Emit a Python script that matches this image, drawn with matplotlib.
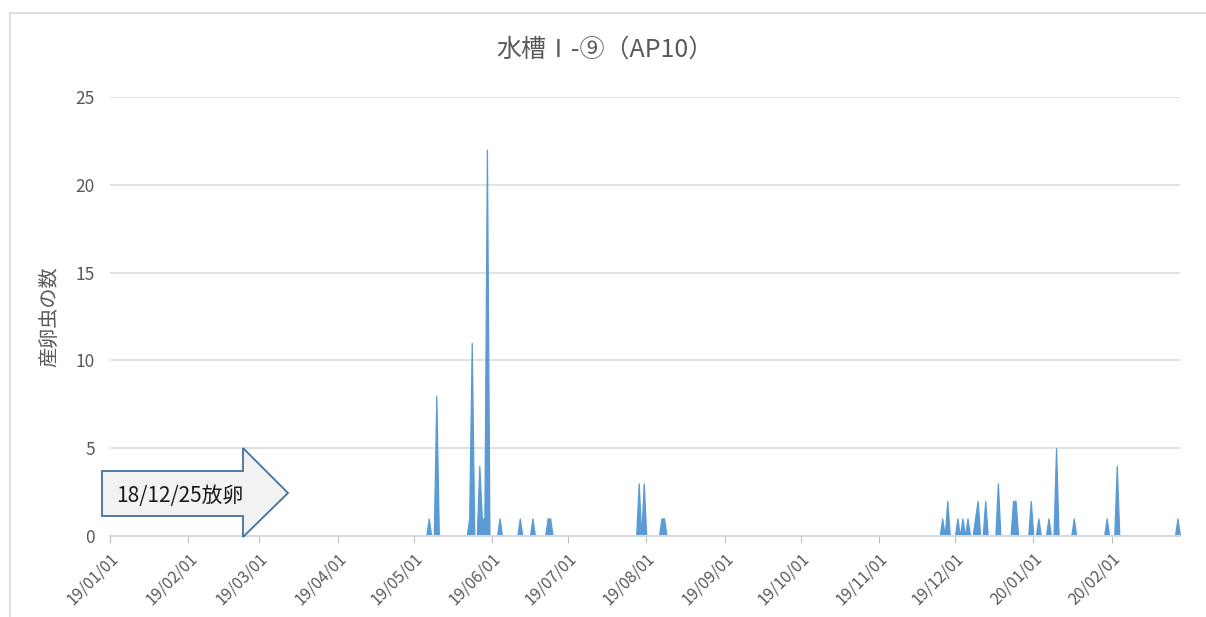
import matplotlib
matplotlib.use('Agg')
import matplotlib.pyplot as plt
import matplotlib.dates as mdates
import matplotlib.patches as patches
import pandas as pd

plt.rcParams['font.family'] = ['Noto Sans CJK JP', 'DejaVu Sans']

# ── data: days with eggs laid (all other days are 0) ───────────────────────
start_date = "2019-01-01"
end_date = "2020-02-28"
egg_dates = [
    "2019-05-07", "2019-05-10", "2019-05-23", "2019-05-24", "2019-05-27",
    "2019-05-28", "2019-05-29", "2019-05-30", "2019-06-04", "2019-06-12",
    "2019-06-17", "2019-06-23", "2019-06-24", "2019-07-29", "2019-07-31",
    "2019-08-07", "2019-08-08", "2019-11-26", "2019-11-28", "2019-12-02",
    "2019-12-04", "2019-12-06", "2019-12-09", "2019-12-10", "2019-12-13",
    "2019-12-18", "2019-12-24", "2019-12-25", "2019-12-31", "2020-01-03",
    "2020-01-07", "2020-01-10", "2020-01-17", "2020-01-30", "2020-02-03",
    "2020-02-27",
]
egg_counts = [
    1, 8, 1, 11, 4,
    1, 1, 22, 1, 1,
    1, 1, 1, 3, 3,
    1, 1, 1, 2, 1,
    1, 1, 1, 2, 2,
    3, 2, 2, 2, 1,
    1, 5, 1, 1, 4,
    1,
]
title = "水槽Ⅰ-⑨（AP10）"
ylabel = "産卵虫の数"
note = "18/12/25放卵"

days = pd.date_range(start_date, end_date, freq="D")
series = pd.Series(egg_counts, index=pd.to_datetime(egg_dates)).reindex(days, fill_value=0)

# ── style ──────────────────────────────────────────────────────────────────
FILL = "#5B9BD5"
GRID = "#D9D9D9"
TEXT = "#595959"
W, H = 1206, 617

fig = plt.figure(figsize=(W / 100, H / 100), dpi=100)
fig.patch.set_facecolor("white")

def fx(px):
    return px / W

def fy(py):
    return 1 - py / H

# chart frame (left + top edges visible)
fig.add_artist(plt.Line2D([fx(10), fx(10)], [0, fy(13)], color=GRID, lw=1.2))
fig.add_artist(plt.Line2D([fx(10), 1], [fy(13), fy(13)], color=GRID, lw=1.2))

ax = fig.add_axes([fx(110), fy(536), fx(1180) - fx(110), fy(97) - fy(536)])
ax.fill_between(series.index, series.values, 0, facecolor=FILL,
                edgecolor=FILL, lw=0.9, zorder=2)

ax.set_xlim(days[0], days[-1])
ax.set_ylim(0, 25)
ax.set_yticks([0, 5, 10, 15, 20, 25])
ax.yaxis.grid(True, color=GRID, lw=1.1)
ax.set_axisbelow(True)

ax.xaxis.set_major_locator(mdates.MonthLocator())
ax.xaxis.set_major_formatter(mdates.DateFormatter("%y/%m/%d"))
for lab in ax.get_xticklabels():
    lab.set_rotation(45)
    lab.set_ha("right")
    lab.set_va("top")
    lab.set_rotation_mode("anchor")

ax.tick_params(axis="x", length=5, color="#BFBFBF", direction="out",
               labelsize=11.5, labelcolor=TEXT, pad=5)
ax.tick_params(axis="y", length=0, labelsize=12.5, labelcolor=TEXT, pad=11)

for s in ["top", "right", "left"]:
    ax.spines[s].set_visible(False)
ax.spines["bottom"].set_color(GRID)
ax.spines["bottom"].set_linewidth(1.4)
ax.spines["bottom"].set_zorder(4)

fig.text(fx(605), fy(50), title, ha="center", va="center", fontsize=18, color=TEXT)
fig.text(fx(50), fy(317), ylabel, ha="center", va="center", rotation=90,
         fontsize=14.5, color=TEXT)

# ── block arrow note ───────────────────────────────────────────────────────
arrow_px = [(102, 471), (243, 471), (243, 448), (288, 493), (243, 537),
            (243, 516), (102, 516)]
arrow = patches.Polygon([(fx(x), fy(y)) for x, y in arrow_px], closed=True,
                        transform=fig.transFigure, facecolor="#F2F2F2",
                        edgecolor="#41719C", lw=1.3, zorder=5)
fig.add_artist(arrow)
fig.text(fx(116), fy(496), note, ha="left", va="center", fontsize=15,
         color="#1a1a1a", zorder=6)

fig.savefig("out.png", dpi=100, facecolor="white")
